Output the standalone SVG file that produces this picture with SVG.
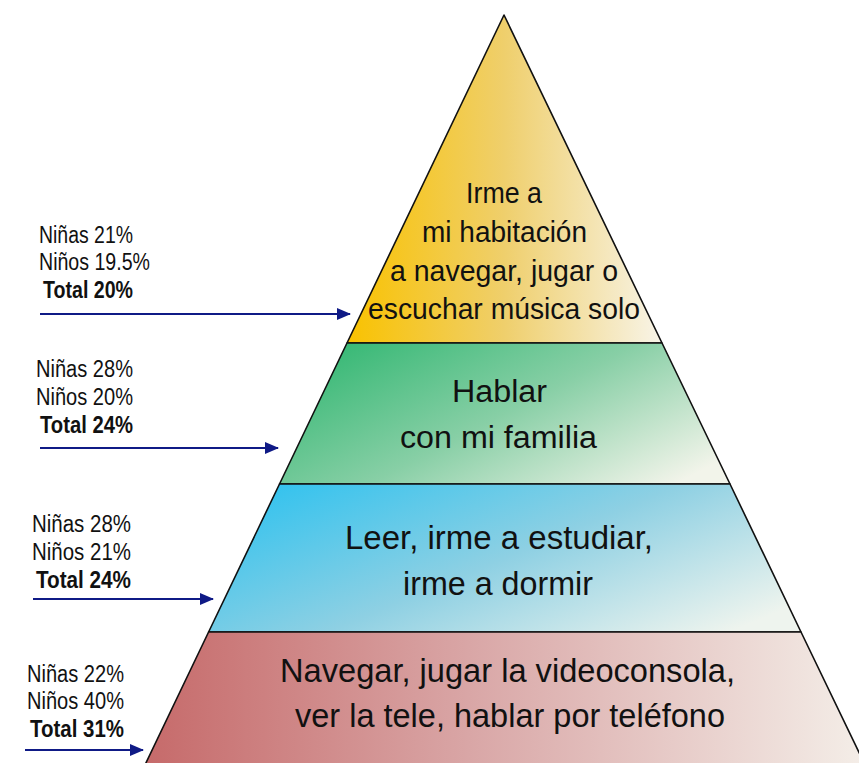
<svg xmlns="http://www.w3.org/2000/svg" width="859" height="763" viewBox="0 0 859 763">
<defs>
<style>
.lvl{stroke:#111;stroke-width:1.6;stroke-linejoin:round}
.t{font-family:"Liberation Sans",Arial,sans-serif;fill:#111;text-anchor:start}
.m{font-family:"Liberation Sans",Arial,sans-serif;fill:#111}
.lab{font-family:"Liberation Sans",Arial,sans-serif;font-size:23px;fill:#111}
.b{font-weight:bold}
.arr{stroke:#0f1a86;stroke-width:2;fill:none;marker-end:url(#ah)}
</style>
<marker id="ah" markerUnits="userSpaceOnUse" markerWidth="14" markerHeight="12" refX="13" refY="6" orient="auto">
<path d="M0,0 L14,6 L0,12 Z" fill="#0f1a86"/>
</marker>
<linearGradient id="gY" x1="0" y1="0" x2="1" y2="0">
<stop offset="0" stop-color="#f9c200"/>
<stop offset="0.5" stop-color="#efcf6c"/>
<stop offset="1" stop-color="#f8f4e8"/>
</linearGradient>
<linearGradient id="gG" x1="0" y1="0.2" x2="1" y2="0.8">
<stop offset="0" stop-color="#35b874"/>
<stop offset="0.5" stop-color="#88cfa6"/>
<stop offset="1" stop-color="#f2f4ea"/>
</linearGradient>
<linearGradient id="gB" x1="0" y1="0.2" x2="1" y2="0.8">
<stop offset="0" stop-color="#35c3ee"/>
<stop offset="0.5" stop-color="#8ed0e3"/>
<stop offset="1" stop-color="#eef4ee"/>
</linearGradient>
<linearGradient id="gR" x1="0" y1="0" x2="1" y2="0">
<stop offset="0" stop-color="#c66a6a"/>
<stop offset="0.45" stop-color="#d9a6a6"/>
<stop offset="1" stop-color="#f4eee8"/>
</linearGradient>
</defs>
<rect width="859" height="763" fill="#ffffff"/>

<g id="level-top">
<polygon class="lvl" points="504,15 662,343 347,343" fill="url(#gY)"/>
<text class="t" font-size="29" x="466" y="203" textLength="76" lengthAdjust="spacingAndGlyphs">Irme a</text>
<text class="t" font-size="29" x="422" y="242" textLength="165" lengthAdjust="spacingAndGlyphs">mi habitación</text>
<text class="t" font-size="29" x="390" y="281" textLength="228" lengthAdjust="spacingAndGlyphs">a navegar, jugar o</text>
<text class="t" font-size="29" x="368" y="319" textLength="272" lengthAdjust="spacingAndGlyphs">escuchar música solo</text>
</g>

<g id="level-green">
<polygon class="lvl" points="347,343 662,343 730,484 279.5,484" fill="url(#gG)"/>
<text class="t" font-size="31" x="452" y="402" textLength="95" lengthAdjust="spacingAndGlyphs">Hablar</text>
<text class="t" font-size="31" x="400" y="448" textLength="197" lengthAdjust="spacingAndGlyphs">con mi familia</text>
</g>

<g id="level-blue">
<polygon class="lvl" points="279.5,484 730,484 801,632 208.6,632" fill="url(#gB)"/>
<text class="t" font-size="33" x="345" y="549" textLength="308" lengthAdjust="spacingAndGlyphs">Leer, irme a estudiar,</text>
<text class="t" font-size="33" x="403" y="595" textLength="190" lengthAdjust="spacingAndGlyphs">irme a dormir</text>
</g>

<g id="level-red">
<polygon class="lvl" points="208.6,632 801,632 866,767 144,767" fill="url(#gR)"/>
<text class="t" font-size="33" x="280" y="682" textLength="455" lengthAdjust="spacingAndGlyphs">Navegar, jugar la videoconsola,</text>
<text class="t" font-size="33" x="295" y="727" textLength="430" lengthAdjust="spacingAndGlyphs">ver la tele, hablar por teléfono</text>
</g>

<g id="label-1">
<text class="lab" x="39" y="243" textLength="94" lengthAdjust="spacingAndGlyphs">Niñas 21%</text>
<text class="lab" x="39" y="270" textLength="111" lengthAdjust="spacingAndGlyphs">Niños 19.5%</text>
<text class="lab b" x="43" y="298" textLength="90" lengthAdjust="spacingAndGlyphs">Total 20%</text>
</g>
<g id="label-2">
<text class="lab" x="36" y="377" textLength="97" lengthAdjust="spacingAndGlyphs">Niñas 28%</text>
<text class="lab" x="36" y="405" textLength="97" lengthAdjust="spacingAndGlyphs">Niños 20%</text>
<text class="lab b" x="40" y="433" textLength="93" lengthAdjust="spacingAndGlyphs">Total 24%</text>
</g>
<g id="label-3">
<text class="lab" x="32" y="532" textLength="99" lengthAdjust="spacingAndGlyphs">Niñas 28%</text>
<text class="lab" x="32" y="560" textLength="99" lengthAdjust="spacingAndGlyphs">Niños 21%</text>
<text class="lab b" x="36" y="588" textLength="95" lengthAdjust="spacingAndGlyphs">Total 24%</text>
</g>
<g id="label-4">
<text class="lab" x="27" y="682" textLength="97" lengthAdjust="spacingAndGlyphs">Niñas 22%</text>
<text class="lab" x="27" y="709" textLength="97" lengthAdjust="spacingAndGlyphs">Niños 40%</text>
<text class="lab b" x="30" y="737" textLength="94" lengthAdjust="spacingAndGlyphs">Total 31%</text>
</g>

<g id="connectors">
<line class="arr" x1="40" y1="314" x2="350" y2="314"/>
<line class="arr" x1="40" y1="448" x2="278" y2="448"/>
<line class="arr" x1="33" y1="599" x2="213" y2="599"/>
<line class="arr" x1="25" y1="750" x2="143" y2="750"/>
</g>
</svg>
